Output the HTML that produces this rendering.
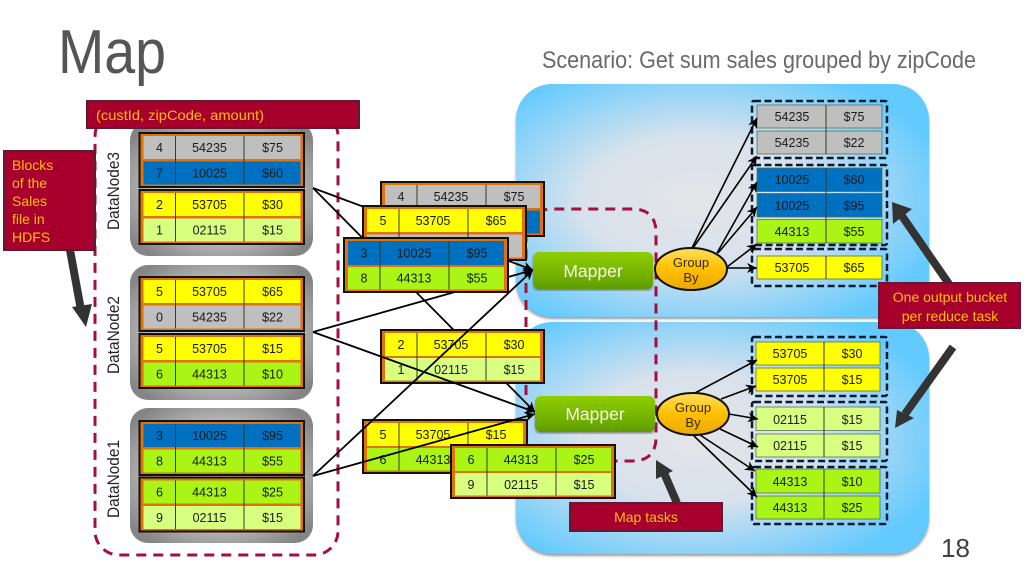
<!DOCTYPE html>
<html>
<head>
<meta charset="utf-8">
<style>
html,body{margin:0;padding:0;background:#fff;width:1024px;height:576px;overflow:hidden}
svg{display:block;font-family:"Liberation Sans",sans-serif}
.o{fill:#e0720a;stroke:#111;stroke-width:2}
.g{fill:#bfbfbf}.b{fill:#0070c0}.y{fill:#ffff00}.l{fill:#d8ff80}.n{fill:#aaf516}
.d{stroke:#3a3a2a;stroke-width:1}
.t{font-size:12.5px;fill:#1a1a1a;text-anchor:middle}
.r{fill:#a8002c;stroke:#5e1c34;stroke-width:2}
.rt{fill:#ffc000;font-size:14px}
.ln{stroke:#000;stroke-width:1.8;fill:none}
.hv{fill:#333}
.hs{stroke:#333;stroke-width:8;fill:none}
.dash{fill:none;stroke:#a50f3c;stroke-width:3;stroke-dasharray:10 7}
.bk{fill:none;stroke:#0b1a33;stroke-width:2.5;stroke-dasharray:7 3.5}
.oc{stroke:#55705a;stroke-width:.8}
.m{fill:url(#mg)}
.mt{fill:#f4fbe8;font-size:17.5px;text-anchor:middle}
.gt{fill:#3a2a00;font-size:13px;text-anchor:middle}
.ar{stroke:#000;stroke-width:1.6;fill:none;marker-end:url(#a)}
.dn{font-size:17px;fill:#222;text-anchor:middle}
</style>
</head>
<body>
<svg width="1024" height="576" viewBox="0 0 1024 576" xmlns="http://www.w3.org/2000/svg">
<defs>
<radialGradient id="pg" cx="0.44" cy="0.5" r="0.62">
<stop offset="0" stop-color="#e4e4e8"/><stop offset="0.45" stop-color="#d8e2ec"/><stop offset="1" stop-color="#62caff"/>
</radialGradient>
<radialGradient id="ng" cx="0.5" cy="0.5" r="0.62">
<stop offset="0" stop-color="#e4e4e4"/><stop offset="0.6" stop-color="#bdbdbd"/><stop offset="1" stop-color="#858585"/>
</radialGradient>
<linearGradient id="mg" x1="0" y1="0" x2="0" y2="1">
<stop offset="0" stop-color="#8fce00"/><stop offset="0.75" stop-color="#6cab00"/><stop offset="1" stop-color="#5d9a00"/>
</linearGradient>
<linearGradient id="eg" x1="0" y1="0" x2="0" y2="1">
<stop offset="0" stop-color="#ffdf60"/><stop offset="0.5" stop-color="#ffc000"/><stop offset="1" stop-color="#e9a800"/>
</linearGradient>
<marker id="a" markerUnits="userSpaceOnUse" markerWidth="12" markerHeight="12" refX="10" refY="5" orient="auto">
<path d="M0,0 L10,5 L0,10 L3,5 Z" fill="#000"/>
</marker>
<filter id="sh" x="-5%" y="-5%" width="110%" height="110%"><feDropShadow dx="0" dy="2" stdDeviation="1.2" flood-color="#555" flood-opacity=".6"/></filter>
</defs>

<rect width="1024" height="576" fill="#fff"/>
<text x="58" y="73" font-size="62" fill="#555" textLength="108" lengthAdjust="spacingAndGlyphs">Map</text>
<text x="542" y="68" font-size="24" fill="#6a6a6a" textLength="434" lengthAdjust="spacingAndGlyphs">Scenario: Get sum sales grouped by zipCode</text>

<rect x="516" y="84" width="413" height="233" rx="36" fill="url(#pg)" filter="url(#sh)"/>
<rect x="516" y="322" width="413" height="232" rx="36" fill="url(#pg)" filter="url(#sh)"/>

<rect class="dash" x="95" y="112" width="243" height="443" rx="24"/>
<path class="dash" d="M526,395 V236 Q526,209 553,209 H632 Q656,209 656,233 V437 Q656,461 632,461 H560"/>

<rect x="130" y="122" width="183" height="134" rx="18" fill="url(#ng)"/>
<rect x="130" y="265" width="183" height="135" rx="18" fill="url(#ng)"/>
<rect x="130" y="408" width="183" height="135" rx="18" fill="url(#ng)"/>

<text class="dn" transform="translate(119,191) rotate(-90)" textLength="78" lengthAdjust="spacingAndGlyphs">DataNode3</text>
<text class="dn" transform="translate(119,335) rotate(-90)" textLength="78" lengthAdjust="spacingAndGlyphs">DataNode2</text>
<text class="dn" transform="translate(119,479) rotate(-90)" textLength="78" lengthAdjust="spacingAndGlyphs">DataNode1</text>

<!-- connectors beneath tables -->
<line class="ln" x1="313" y1="188" x2="533" y2="270" marker-end="url(#a)"/>
<line class="ln" x1="313" y1="188" x2="535" y2="412" marker-end="url(#a)"/>
<line class="ln" x1="313" y1="332" x2="533" y2="270" marker-end="url(#a)"/>

<!-- DataNode3 tables -->
<g transform="translate(139.5,133)"><rect class="o" width="164.5" height="54"/><rect class="g" x="4" y="3" width="157" height="23"/><rect class="b" x="4" y="28.5" width="157" height="23"/><path class="d" d="M36,3V51.5M104.500,3V51.500"/><text class="t" x="20" y="19">4</text><text class="t" x="70" y="19">54235</text><text class="t" x="133" y="19">$75</text><text class="t" x="20" y="44.500">7</text><text class="t" x="70" y="44.500">10025</text><text class="t" x="133" y="44.500">$60</text></g>
<g transform="translate(139.5,190)"><rect class="o" width="164.5" height="54"/><rect class="y" x="4" y="3" width="157" height="23"/><rect class="l" x="4" y="28.5" width="157" height="23"/><path class="d" d="M36,3V51.5M104.500,3V51.500"/><text class="t" x="20" y="19">2</text><text class="t" x="70" y="19">53705</text><text class="t" x="133" y="19">$30</text><text class="t" x="20" y="44.500">1</text><text class="t" x="70" y="44.500">02115</text><text class="t" x="133" y="44.500">$15</text></g>
<!-- DataNode2 tables -->
<g transform="translate(139.5,277)"><rect class="o" width="164.5" height="54"/><rect class="y" x="4" y="3" width="157" height="23"/><rect class="g" x="4" y="28.5" width="157" height="23"/><path class="d" d="M36,3V51.5M104.500,3V51.500"/><text class="t" x="20" y="19">5</text><text class="t" x="70" y="19">53705</text><text class="t" x="133" y="19">$65</text><text class="t" x="20" y="44.500">0</text><text class="t" x="70" y="44.500">54235</text><text class="t" x="133" y="44.500">$22</text></g>
<g transform="translate(139.5,334)"><rect class="o" width="164.5" height="54"/><rect class="y" x="4" y="3" width="157" height="23"/><rect class="n" x="4" y="28.5" width="157" height="23"/><path class="d" d="M36,3V51.5M104.500,3V51.500"/><text class="t" x="20" y="19">5</text><text class="t" x="70" y="19">53705</text><text class="t" x="133" y="19">$15</text><text class="t" x="20" y="44.500">6</text><text class="t" x="70" y="44.500">44313</text><text class="t" x="133" y="44.500">$10</text></g>
<!-- DataNode1 tables -->
<g transform="translate(139.5,421)"><rect class="o" width="164.5" height="54"/><rect class="b" x="4" y="3" width="157" height="23"/><rect class="n" x="4" y="28.5" width="157" height="23"/><path class="d" d="M36,3V51.5M104.500,3V51.500"/><text class="t" x="20" y="19">3</text><text class="t" x="70" y="19">10025</text><text class="t" x="133" y="19">$95</text><text class="t" x="20" y="44.500">8</text><text class="t" x="70" y="44.500">44313</text><text class="t" x="133" y="44.500">$55</text></g>
<g transform="translate(139.5,477.5)"><rect class="o" width="164.5" height="54"/><rect class="n" x="4" y="3" width="157" height="23"/><rect class="l" x="4" y="28.5" width="157" height="23"/><path class="d" d="M36,3V51.5M104.500,3V51.500"/><text class="t" x="20" y="19">6</text><text class="t" x="70" y="19">44313</text><text class="t" x="133" y="19">$25</text><text class="t" x="20" y="44.500">9</text><text class="t" x="70" y="44.500">02115</text><text class="t" x="133" y="44.500">$15</text></g>

<!-- Middle tables -->
<g transform="translate(381,182)"><rect class="o" width="163" height="54"/><rect class="g" x="4" y="3" width="155" height="23"/><rect class="b" x="4" y="28.5" width="155" height="23"/><path class="d" d="M36,3V51.5M105,3V51.500"/><text class="t" x="20" y="19">4</text><text class="t" x="70" y="19">54235</text><text class="t" x="133" y="19">$75</text><text class="t" x="20" y="44.500">7</text><text class="t" x="70" y="44.500">10025</text><text class="t" x="133" y="44.500">$60</text></g>
<g transform="translate(363,206)"><rect class="o" width="163" height="54"/><rect class="y" x="4" y="3" width="155" height="23"/><rect class="g" x="4" y="28.5" width="155" height="23"/><path class="d" d="M36,3V51.5M105,3V51.500"/><text class="t" x="20" y="19">5</text><text class="t" x="70" y="19">53705</text><text class="t" x="133" y="19">$65</text><text class="t" x="20" y="44.500">0</text><text class="t" x="70" y="44.500">54235</text><text class="t" x="133" y="44.500">$22</text></g>
<g transform="translate(344,238)"><rect class="o" width="164" height="54"/><rect class="b" x="4" y="3" width="156" height="24"/><rect class="n" x="4" y="29" width="156" height="22.500"/><path class="d" d="M36,3V51.5M105,3V51.500"/><text class="t" x="20" y="19.500">3</text><text class="t" x="70" y="19.500">10025</text><text class="t" x="133" y="19.500">$95</text><text class="t" x="20" y="44.500">8</text><text class="t" x="70" y="44.500">44313</text><text class="t" x="133" y="44.500">$55</text></g>
<g transform="translate(381,330)"><rect class="o" width="163" height="53"/><rect class="y" x="4" y="3" width="155" height="23"/><rect class="l" x="4" y="28" width="155" height="22.500"/><path class="d" d="M36,3V50.500M105,3V50.500"/><text class="t" x="20" y="19">2</text><text class="t" x="70" y="19">53705</text><text class="t" x="133" y="19">$30</text><text class="t" x="20" y="44">1</text><text class="t" x="70" y="44">02115</text><text class="t" x="133" y="44">$15</text></g>
<g transform="translate(363,420)"><rect class="o" width="164" height="53"/><rect class="y" x="4" y="3" width="156" height="23"/><rect class="n" x="4" y="28" width="156" height="22.500"/><path class="d" d="M36,3V50.500M105,3V50.500"/><text class="t" x="20" y="19">5</text><text class="t" x="70" y="19">53705</text><text class="t" x="133" y="19">$15</text><text class="t" x="20" y="44">6</text><text class="t" x="70" y="44">44313</text><text class="t" x="133" y="44">$10</text></g>

<!-- connectors over tables -->
<line class="ln" x1="313" y1="332" x2="535" y2="412" marker-end="url(#a)"/>
<line class="ln" x1="313" y1="476" x2="533" y2="270" marker-end="url(#a)"/>
<line class="ln" x1="313" y1="476" x2="535" y2="414" marker-end="url(#a)"/>

<g transform="translate(451,445)"><rect class="o" width="164" height="53"/><rect class="n" x="4" y="3" width="156" height="23"/><rect class="l" x="4" y="28" width="156" height="22.500"/><path class="d" d="M36,3V50.500M105,3V50.500"/><text class="t" x="20" y="19">6</text><text class="t" x="70" y="19">44313</text><text class="t" x="133" y="19">$25</text><text class="t" x="20" y="44">9</text><text class="t" x="70" y="44">02115</text><text class="t" x="133" y="44">$15</text></g>

<!-- Mappers -->
<rect class="m" x="533" y="252" width="120" height="37" rx="6" filter="url(#sh)"/>
<text class="mt" x="593" y="277">Mapper</text>
<rect class="m" x="535" y="396" width="120" height="36" rx="6" filter="url(#sh)"/>
<text class="mt" x="595" y="420">Mapper</text>

<!-- Output tables, top -->
<rect class="g oc" x="757" y="105" width="125" height="23"/><rect class="g oc" x="757" y="131" width="125" height="23"/>
<rect class="b oc" x="757" y="168" width="125" height="23.500"/><rect class="b oc" x="757" y="193.500" width="125" height="23.500"/><rect class="n oc" x="757" y="219.500" width="125" height="23.500"/>
<rect class="y oc" x="757" y="256" width="125" height="23"/>
<path class="d" d="M826,105V154M826,168V243M826,256V279"/>
<text class="t" x="792" y="121">54235</text><text class="t" x="854" y="121">$75</text>
<text class="t" x="792" y="147">54235</text><text class="t" x="854" y="147">$22</text>
<text class="t" x="792" y="184">10025</text><text class="t" x="854" y="184">$60</text>
<text class="t" x="792" y="210">10025</text><text class="t" x="854" y="210">$95</text>
<text class="t" x="792" y="236">44313</text><text class="t" x="854" y="236">$55</text>
<text class="t" x="792" y="272">53705</text><text class="t" x="854" y="272">$65</text>
<rect class="bk" x="752" y="101" width="135" height="57" rx="2"/>
<rect class="bk" x="752" y="165" width="135" height="80" rx="2"/>
<rect class="bk" x="752" y="249" width="135" height="37" rx="2"/>

<!-- Output tables, bottom -->
<rect class="y oc" x="756" y="342" width="124" height="23"/><rect class="y oc" x="756" y="368" width="124" height="23"/>
<rect class="l oc" x="756" y="407" width="124" height="23.500"/><rect class="l oc" x="756" y="434" width="124" height="23"/>
<rect class="n oc" x="756" y="469" width="124" height="24"/><rect class="n oc" x="756" y="496" width="124" height="23"/>
<path class="d" d="M824,342V391M824,407V457M824,469V519"/>
<text class="t" x="790" y="358">53705</text><text class="t" x="852" y="358">$30</text>
<text class="t" x="790" y="384">53705</text><text class="t" x="852" y="384">$15</text>
<text class="t" x="790" y="424">02115</text><text class="t" x="852" y="424">$15</text>
<text class="t" x="790" y="450">02115</text><text class="t" x="852" y="450">$15</text>
<text class="t" x="790" y="486">44313</text><text class="t" x="852" y="486">$10</text>
<text class="t" x="790" y="512">44313</text><text class="t" x="852" y="512">$25</text>
<rect class="bk" x="752" y="337" width="135" height="59" rx="2"/>
<rect class="bk" x="752" y="402" width="135" height="59" rx="2"/>
<rect class="bk" x="752" y="467" width="135" height="57" rx="2"/>

<!-- Group-by arrows -->
<line class="ar" x1="692" y1="248" x2="757" y2="118"/>
<line class="ar" x1="693" y1="248" x2="757" y2="156"/>
<line class="ar" x1="717" y1="253" x2="757" y2="182"/>
<line class="ar" x1="718" y1="253" x2="757" y2="207"/>
<line class="ar" x1="727" y1="267" x2="757" y2="244"/>
<line class="ar" x1="727" y1="268" x2="757" y2="268"/>
<line class="ar" x1="695" y1="393" x2="757" y2="360"/>
<line class="ar" x1="721" y1="399" x2="756" y2="386"/>
<line class="ar" x1="729" y1="414" x2="758" y2="419"/>
<line class="ar" x1="720" y1="429" x2="758" y2="447"/>
<line class="ar" x1="700" y1="435" x2="755" y2="471"/>
<line class="ar" x1="693" y1="435" x2="757" y2="497"/>

<!-- Group by -->
<ellipse cx="691" cy="269" rx="36" ry="21" fill="url(#eg)" stroke="#111" stroke-width="2"/>
<text class="gt" x="691" y="267">Group</text><text class="gt" x="691" y="282">By</text>
<ellipse cx="693" cy="414" rx="36" ry="21" fill="url(#eg)" stroke="#111" stroke-width="2"/>
<text class="gt" x="693" y="412">Group</text><text class="gt" x="693" y="427">By</text>

<!-- Thick arrows -->
<line class="hs" x1="70" y1="250" x2="81" y2="310"/><polygon class="hv" points="86,327 72,307 92,304"/>
<line class="hs" x1="949" y1="284" x2="902" y2="216"/><polygon class="hv" points="892,202 893,224 912,209"/>
<line class="hs" x1="953" y1="347" x2="905" y2="414"/><polygon class="hv" points="895,428 897,410 914,418"/>
<line class="hs" x1="677" y1="503" x2="664" y2="473"/><polygon class="hv" points="656,460 656,479 673,471"/>

<!-- Red labels -->
<rect class="r" x="87" y="101" width="272" height="27"/>
<text class="rt" x="96" y="120" textLength="168" lengthAdjust="spacingAndGlyphs">(custId, zipCode, amount)</text>
<rect class="r" x="4" y="151" width="91" height="99"/>
<text class="rt" x="12" y="170">Blocks</text><text class="rt" x="12" y="188">of the</text><text class="rt" x="12" y="206">Sales</text><text class="rt" x="12" y="224">file in</text><text class="rt" x="12" y="242">HDFS</text>
<rect class="r" x="570" y="503" width="152" height="28"/>
<text class="rt" x="646" y="522" text-anchor="middle">Map tasks</text>
<rect class="r" x="879" y="283" width="141" height="45"/>
<text class="rt" x="950" y="302" text-anchor="middle">One output bucket</text>
<text class="rt" x="950" y="321" text-anchor="middle">per reduce  task</text>

<text x="941" y="557" font-size="26" fill="#404040">18</text>
</svg>
</body>
</html>
